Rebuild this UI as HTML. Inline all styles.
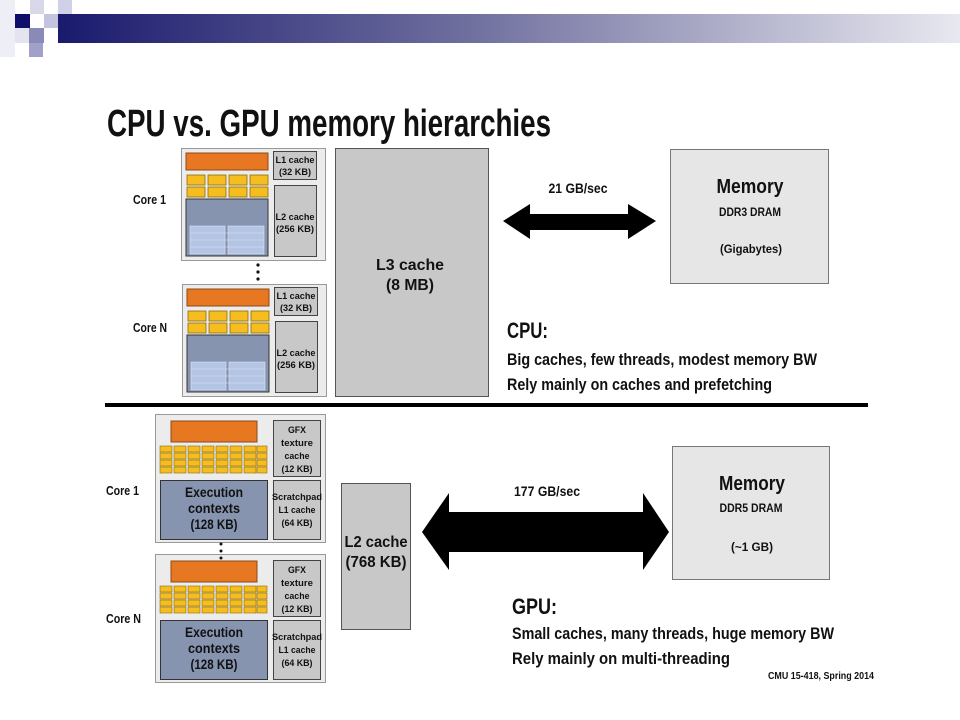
<!DOCTYPE html>
<html><head><meta charset="utf-8"><style>
html,body{margin:0;padding:0;background:#fff;}
svg{display:block;}
text{font-family:"Liberation Sans Narrow","Liberation Sans",sans-serif;font-weight:bold;fill:#111;}
</style></head><body>
<svg width="960" height="720" viewBox="0 0 960 720" xmlns="http://www.w3.org/2000/svg">
<defs>
<linearGradient id="hb" x1="0" x2="1" y1="0" y2="0">
<stop offset="0" stop-color="#1a1a6e"/><stop offset="0.45" stop-color="#6e6e9e"/><stop offset="1" stop-color="#e8e8f0"/>
</linearGradient>
</defs>
<rect width="960" height="720" fill="#fff"/>
<!-- header -->
<rect x="0" y="0" width="15" height="57" fill="#eeeef6"/>
<rect x="30" y="0" width="14" height="14" fill="#d8d8ea"/>
<rect x="58" y="0" width="14" height="14" fill="#d0d0e6"/>
<rect x="15" y="14" width="15" height="14" fill="#0f0f6a"/>
<rect x="44" y="14" width="14" height="14" fill="#c4c4de"/>
<rect x="58" y="14" width="902" height="29" fill="url(#hb)"/>
<rect x="29" y="28" width="15" height="15" fill="#8a8ab8"/>
<rect x="15" y="28" width="14" height="15" fill="#e4e4f0"/>
<rect x="29" y="43" width="14" height="14" fill="#a0a0c8"/>

<text x="107" y="136" font-size="38" textLength="444" lengthAdjust="spacingAndGlyphs">CPU vs. GPU memory hierarchies</text>

<!-- CPU cores -->
<g id="cpucore">
<rect x="181.5" y="148.5" width="144" height="112" fill="#ececec" stroke="#999"/>
<rect x="186" y="153" width="82" height="17" fill="#e87722" stroke="#8a4a18"/>
<g fill="#f5be1e" stroke="#8a6a10" stroke-width="0.8">
<rect x="187" y="175" width="18" height="10"/><rect x="208" y="175" width="18" height="10"/><rect x="229" y="175" width="18" height="10"/><rect x="250" y="175" width="18" height="10"/>
<rect x="187" y="187" width="18" height="10"/><rect x="208" y="187" width="18" height="10"/><rect x="229" y="187" width="18" height="10"/><rect x="250" y="187" width="18" height="10"/>
</g>
<rect x="186" y="199" width="82" height="57" fill="#8794b0" stroke="#333"/>
<g fill="#b3c4e4" stroke="#dde6f6" stroke-width="0.6">
<rect x="190" y="226" width="35" height="28"/><rect x="228" y="226" width="36" height="28"/>
<line x1="190" y1="233" x2="264" y2="233"/><line x1="190" y1="240" x2="264" y2="240"/><line x1="190" y1="247" x2="264" y2="247"/>
</g>
<rect x="273.5" y="151.5" width="43" height="28" fill="#c8c8c8" stroke="#444"/>
<text x="295" y="163" font-size="9.5" text-anchor="middle" textLength="39" lengthAdjust="spacingAndGlyphs">L1 cache</text>
<text x="295" y="175" font-size="9.5" text-anchor="middle" textLength="32" lengthAdjust="spacingAndGlyphs">(32 KB)</text>
<rect x="274.5" y="185.5" width="42" height="71" fill="#c8c8c8" stroke="#444"/>
<text x="295" y="220" font-size="9.5" text-anchor="middle" textLength="39" lengthAdjust="spacingAndGlyphs">L2 cache</text>
<text x="295" y="232" font-size="9.5" text-anchor="middle" textLength="38" lengthAdjust="spacingAndGlyphs">(256 KB)</text>
</g>
<use href="#cpucore" transform="translate(1,136)"/>
<circle cx="258" cy="265" r="1.6" fill="#111"/><circle cx="258" cy="272" r="1.6" fill="#111"/><circle cx="258" cy="279" r="1.6" fill="#111"/>
<text x="133" y="204" font-size="13" textLength="33" lengthAdjust="spacingAndGlyphs">Core 1</text>
<text x="133" y="332" font-size="13" textLength="34" lengthAdjust="spacingAndGlyphs">Core N</text>

<rect x="335.5" y="148.5" width="153" height="248" fill="#c8c8c8" stroke="#555"/>
<text x="410" y="270" font-size="16" text-anchor="middle" textLength="68" lengthAdjust="spacingAndGlyphs">L3 cache</text>
<text x="410" y="290" font-size="16" text-anchor="middle" textLength="48" lengthAdjust="spacingAndGlyphs">(8 MB)</text>

<polygon points="503,221 530,204 530,214 628,214 628,204 656,221 628,239 628,230 530,230 530,239" fill="#000"/>
<text x="578" y="193" font-size="14" text-anchor="middle" textLength="59" lengthAdjust="spacingAndGlyphs">21 GB/sec</text>

<rect x="670.5" y="149.5" width="158" height="134" fill="#e6e6e6" stroke="#777"/>
<text x="750" y="193" font-size="20" text-anchor="middle" textLength="67" lengthAdjust="spacingAndGlyphs">Memory</text>
<text x="750" y="216" font-size="12" text-anchor="middle" textLength="62" lengthAdjust="spacingAndGlyphs">DDR3 DRAM</text>
<text x="751" y="253" font-size="12" text-anchor="middle" textLength="62" lengthAdjust="spacingAndGlyphs">(Gigabytes)</text>

<text x="507" y="338" font-size="22" textLength="41" lengthAdjust="spacingAndGlyphs">CPU:</text>
<text x="507" y="365" font-size="17" textLength="310" lengthAdjust="spacingAndGlyphs">Big caches, few threads, modest memory BW</text>
<text x="507" y="390" font-size="17" textLength="265" lengthAdjust="spacingAndGlyphs">Rely mainly on caches and prefetching</text>

<rect x="105" y="403" width="763" height="4" fill="#000"/>

<!-- GPU cores -->
<g id="gpucore">
<rect x="155.5" y="414.5" width="170" height="128" fill="#ececec" stroke="#999"/>
<rect x="171" y="421" width="86" height="21" fill="#e87722" stroke="#8a4a18"/>
<g fill="#f5be1e" stroke="#8a6a10" stroke-width="0.6">
<rect x="160" y="446" width="12" height="6"/><rect x="174" y="446" width="12" height="6"/><rect x="188" y="446" width="12" height="6"/><rect x="202" y="446" width="12" height="6"/><rect x="216" y="446" width="12" height="6"/><rect x="230" y="446" width="12" height="6"/><rect x="244" y="446" width="12" height="6"/><rect x="257" y="446" width="10" height="6"/>
<rect x="160" y="453" width="12" height="6"/><rect x="174" y="453" width="12" height="6"/><rect x="188" y="453" width="12" height="6"/><rect x="202" y="453" width="12" height="6"/><rect x="216" y="453" width="12" height="6"/><rect x="230" y="453" width="12" height="6"/><rect x="244" y="453" width="12" height="6"/><rect x="257" y="453" width="10" height="6"/>
<rect x="160" y="460" width="12" height="6"/><rect x="174" y="460" width="12" height="6"/><rect x="188" y="460" width="12" height="6"/><rect x="202" y="460" width="12" height="6"/><rect x="216" y="460" width="12" height="6"/><rect x="230" y="460" width="12" height="6"/><rect x="244" y="460" width="12" height="6"/><rect x="257" y="460" width="10" height="6"/>
<rect x="160" y="467" width="12" height="6"/><rect x="174" y="467" width="12" height="6"/><rect x="188" y="467" width="12" height="6"/><rect x="202" y="467" width="12" height="6"/><rect x="216" y="467" width="12" height="6"/><rect x="230" y="467" width="12" height="6"/><rect x="244" y="467" width="12" height="6"/><rect x="257" y="467" width="10" height="6"/>
</g>
<rect x="160.5" y="480.5" width="107" height="59" fill="#8794b0" stroke="#333"/>
<text x="214" y="497" font-size="14" text-anchor="middle" textLength="58" lengthAdjust="spacingAndGlyphs">Execution</text>
<text x="214" y="513" font-size="14" text-anchor="middle" textLength="52" lengthAdjust="spacingAndGlyphs">contexts</text>
<text x="214" y="529" font-size="14" text-anchor="middle" textLength="47" lengthAdjust="spacingAndGlyphs">(128 KB)</text>
<rect x="273.5" y="420.5" width="47" height="56" fill="#c8c8c8" stroke="#444"/>
<text x="297" y="433" font-size="9.5" text-anchor="middle" textLength="18" lengthAdjust="spacingAndGlyphs">GFX</text>
<text x="297" y="446" font-size="9.5" text-anchor="middle" textLength="32" lengthAdjust="spacingAndGlyphs">texture</text>
<text x="297" y="459" font-size="9.5" text-anchor="middle" textLength="25" lengthAdjust="spacingAndGlyphs">cache</text>
<text x="297" y="472" font-size="9.5" text-anchor="middle" textLength="31" lengthAdjust="spacingAndGlyphs">(12 KB)</text>
<rect x="273.5" y="480.5" width="47" height="59" fill="#c8c8c8" stroke="#444"/>
<text x="297" y="500" font-size="9.5" text-anchor="middle" textLength="50" lengthAdjust="spacingAndGlyphs">Scratchpad</text>
<text x="297" y="513" font-size="9.5" text-anchor="middle" textLength="37" lengthAdjust="spacingAndGlyphs">L1 cache</text>
<text x="297" y="526" font-size="9.5" text-anchor="middle" textLength="31" lengthAdjust="spacingAndGlyphs">(64 KB)</text>
</g>
<use href="#gpucore" transform="translate(0,140)"/>
<circle cx="221" cy="544" r="1.5" fill="#111"/><circle cx="221" cy="551" r="1.5" fill="#111"/><circle cx="221" cy="558" r="1.5" fill="#111"/>
<text x="106" y="495" font-size="13" textLength="33" lengthAdjust="spacingAndGlyphs">Core 1</text>
<text x="106" y="623" font-size="13" textLength="35" lengthAdjust="spacingAndGlyphs">Core N</text>

<rect x="341.5" y="483.5" width="69" height="146" fill="#c8c8c8" stroke="#555"/>
<text x="376" y="547" font-size="16" text-anchor="middle" textLength="63" lengthAdjust="spacingAndGlyphs">L2 cache</text>
<text x="376" y="567" font-size="16" text-anchor="middle" textLength="61" lengthAdjust="spacingAndGlyphs">(768 KB)</text>

<polygon points="422,532 449,493 449,512 643,512 643,493 669,532 643,570 643,552 449,552 449,570" fill="#000"/>
<text x="547" y="496" font-size="14" text-anchor="middle" textLength="66" lengthAdjust="spacingAndGlyphs">177 GB/sec</text>

<rect x="672.5" y="446.5" width="157" height="133" fill="#e6e6e6" stroke="#777"/>
<text x="752" y="490" font-size="20" text-anchor="middle" textLength="66" lengthAdjust="spacingAndGlyphs">Memory</text>
<text x="751" y="512" font-size="12" text-anchor="middle" textLength="63" lengthAdjust="spacingAndGlyphs">DDR5 DRAM</text>
<text x="752" y="551" font-size="12" text-anchor="middle" textLength="42" lengthAdjust="spacingAndGlyphs">(~1 GB)</text>

<text x="512" y="614" font-size="22" textLength="45" lengthAdjust="spacingAndGlyphs">GPU:</text>
<text x="512" y="639" font-size="17" textLength="322" lengthAdjust="spacingAndGlyphs">Small caches, many threads, huge memory BW</text>
<text x="512" y="664" font-size="17" textLength="218" lengthAdjust="spacingAndGlyphs">Rely mainly on multi-threading</text>
<text x="768" y="679" font-size="10" textLength="106" lengthAdjust="spacingAndGlyphs">CMU 15-418, Spring 2014</text>
</svg>
</body></html>
